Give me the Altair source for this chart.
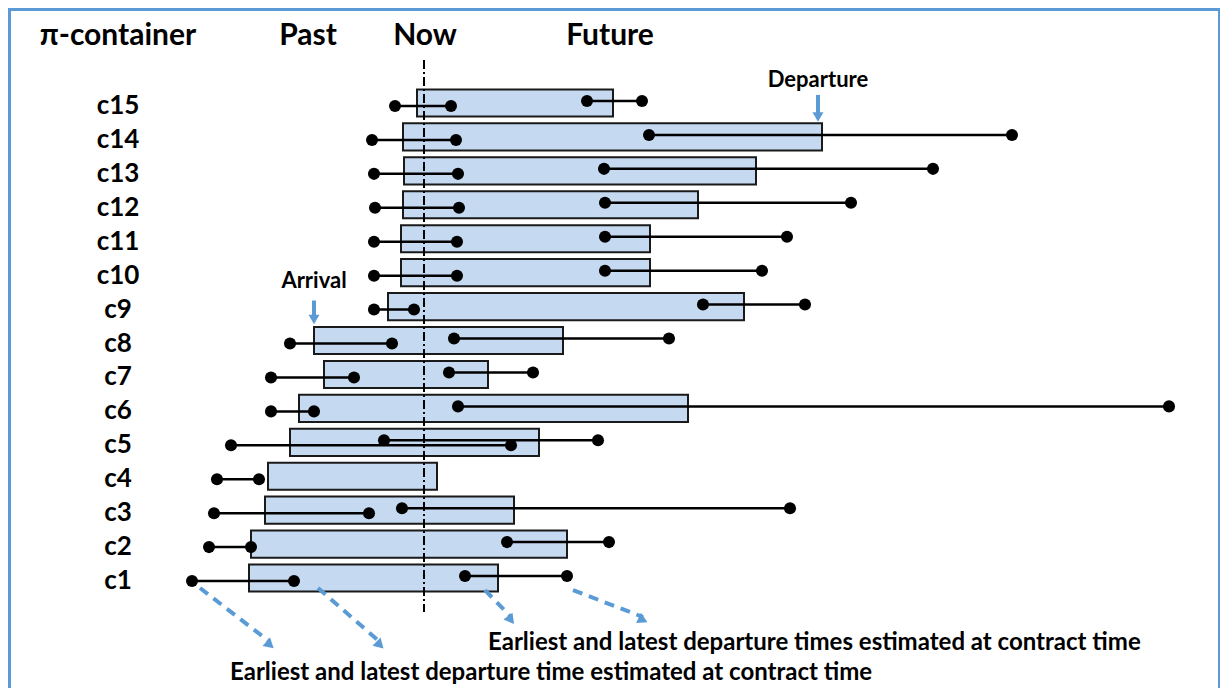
import math
import altair as alt
import pandas as pd

# ---------------- data (time in hours relative to "Now") ----------------
containers = ["c15", "c14", "c13", "c12", "c11", "c10", "c9", "c8",
              "c7", "c6", "c5", "c4", "c3", "c2", "c1"]
stay_start = [-0.7, -2.1, -2.0, -2.1, -2.3, -2.3, -3.6, -11.0,
              -10.0, -12.5, -13.4, -15.6, -15.9, -17.3, -17.5]
stay_end = [18.9, 39.8, 33.2, 27.4, 22.6, 22.6, 32.0, 13.9,
            6.4, 26.4, 11.5, 1.3, 9.0, 14.3, 7.4]
arrival_earliest = [-2.9, -5.2, -5.0, -4.9, -5.0, -5.0, -5.0, -13.4,
                    -15.3, -15.3, -19.3, -20.7, -21.0, -21.5, -23.2]
arrival_latest = [2.7, 3.2, 3.4, 3.5, 3.3, 3.3, -1.0, -3.2,
                  -7.0, -11.0, 8.7, -16.5, -5.5, -17.3, -13.0]
departure_earliest = [16.3, 22.5, 18.0, 18.1, 18.1, 18.1, 27.9, 3.0,
                      2.5, 3.4, -4.0, None, -2.2, 8.3, 4.1]
departure_latest = [21.8, 58.8, 50.9, 42.7, 36.3, 33.8, 38.1, 24.5,
                    10.9, 74.5, 17.4, None, 36.6, 18.5, 14.3]

headers = ["π-container", "Past", "Now", "Future"]
note_top = "Earliest and latest departure times estimated at contract time"
note_bottom = "Earliest and latest departure time estimated at contract time"

# ---------------- tables ----------------
stays = pd.DataFrame({"c": containers, "start": stay_start, "end": stay_end})
arr = pd.DataFrame({"c": containers, "x1": arrival_earliest, "x2": arrival_latest})
dep = pd.DataFrame({"c": containers, "x1": departure_earliest,
                    "x2": departure_latest}).dropna()
arr_pts = pd.concat([arr[["c", "x1"]].rename(columns={"x1": "t"}),
                     arr[["c", "x2"]].rename(columns={"x2": "t"})])
dep_pts = pd.concat([dep[["c", "x1"]].rename(columns={"x1": "t"}),
                     dep[["c", "x2"]].rename(columns={"x2": "t"})])
now_df = pd.DataFrame({"t": [0.0]})

W, H = 1212, 680
PX = 10.0  # pixels per hour
FONT = "Lato"
BLUE = "#5B9BD5"

xs = alt.Scale(domain=[-41.6, 79.6], nice=False, zero=False)
ys = alt.Scale(domain=containers, range=[78.04, 587.0],
               paddingInner=0.2, paddingOuter=0.1)
X = lambda f: alt.X(f, type="quantitative", scale=xs, axis=None)
Y = alt.Y("c:N", scale=ys, axis=None, sort=containers)

one = pd.DataFrame({"a": [0]})

layers = []

# frame
layers.append(alt.Chart(one).mark_rule(color=BLUE, strokeWidth=3).encode(
    x=alt.value(1.5), y=alt.value(0), y2=alt.value(H)))
layers.append(alt.Chart(one).mark_rule(color=BLUE, strokeWidth=3).encode(
    y=alt.value(1.5), x=alt.value(0), x2=alt.value(W)))
layers.append(alt.Chart(one).mark_rule(color=BLUE, strokeWidth=2).encode(
    x=alt.value(W - 1), y=alt.value(0), y2=alt.value(H)))

# stays (bars)
layers.append(alt.Chart(stays).mark_bar(fill="#C5D9F1", stroke="#1a1a1a",
                                        strokeWidth=2, cornerRadius=0).encode(
    x=X("start"), x2="end", y=Y))

# now line
layers.append(alt.Chart(now_df).mark_rule(color="black", strokeWidth=2,
                                          strokeDash=[9, 3, 2, 3]).encode(
    x=X("t"), y=alt.value(52), y2=alt.value(604)))

# segments
layers.append(alt.Chart(arr).mark_rule(color="black", strokeWidth=2.5, yOffset=3).encode(
    x=X("x1"), x2="x2", y=Y))
layers.append(alt.Chart(dep).mark_rule(color="black", strokeWidth=2.5, yOffset=-2).encode(
    x=X("x1"), x2="x2", y=Y))
layers.append(alt.Chart(arr_pts).mark_circle(color="black", size=145, opacity=1,
                                             yOffset=3).encode(x=X("t"), y=Y))
layers.append(alt.Chart(dep_pts).mark_circle(color="black", size=145, opacity=1,
                                             yOffset=-2).encode(x=X("t"), y=Y))

# row labels
layers.append(alt.Chart(stays).mark_text(font=FONT, fontWeight="bold", fontSize=26,
                                         color="black", yOffset=3).encode(
    y=Y, x=alt.value(110), text="c:N"))

# headers
for txt, px in zip(headers, [110, 300, 417, 602]):
    layers.append(alt.Chart(one).mark_text(text=txt, font=FONT, fontWeight="bold",
                                           fontSize=30, color="black").encode(
        x=alt.value(px), y=alt.value(28)))

# Arrival / Departure annotations
ann = pd.DataFrame({"c": ["c8", "c14"], "label": ["Arrival", "Departure"],
                    "t": [stay_start[7], stay_end[1] - 0.4]})
for lab, toff, s0, s1, h in [("Arrival", -60, -40, -24, -21),
                             ("Departure", -57, -42, -24, -20)]:
    d = ann[ann.label == lab]
    layers.append(alt.Chart(d).mark_text(font=FONT, fontWeight="bold", fontSize=22,
                                         color="black", yOffset=toff).encode(
        x=X("t"), y=Y, text="label:N"))
    layers.append(alt.Chart(d).mark_rule(color=BLUE, strokeWidth=4,
                                         yOffset=s0, y2Offset=s1).encode(
        x=X("t"), y=Y, y2="c:N"))
    layers.append(alt.Chart(d).mark_point(shape="triangle-down", filled=True, color=BLUE,
                                          size=120, opacity=1, yOffset=h).encode(
        x=X("t"), y=Y))

# bottom dashed arrows from c1 points
c1 = containers.index("c1")
arrows = pd.DataFrame({
    "c": ["c1"] * 4,
    "s": [arrival_earliest[c1] + 0.8, arrival_latest[c1] + 2.4,
          departure_earliest[c1] + 2.0, departure_latest[c1] + 0.6],
    "e": [arrival_earliest[c1] + 7.8, arrival_latest[c1] + 8.6,
          departure_earliest[c1] + 4.6, departure_latest[c1] + 7.6],
    "grp": ["low", "low", "high", "high"],
})
for grp, y0, y1 in [("low", 10, 71), ("high", 12, 46)]:
    d = arrows[arrows.grp == grp]
    layers.append(alt.Chart(d).mark_rule(color=BLUE, strokeWidth=4, strokeDash=[10, 7],
                                         yOffset=y0, y2Offset=y1 - 7).encode(
        x=X("s"), x2="e", y=Y, y2="c:N"))
    for _, r in d.iterrows():
        ang = 90 + math.degrees(math.atan2(y1 - y0, (r.e - r.s) * PX))
        layers.append(alt.Chart(pd.DataFrame([r])).mark_point(
            shape="triangle-up", filled=True, color=BLUE, size=130, opacity=1,
            angle=ang, yOffset=y1 - 4).encode(x=X("e"), y=Y))

# bottom notes
layers.append(alt.Chart(one).mark_text(text=note_top, font=FONT, fontWeight="bold",
                                       fontSize=24, color="black", align="left").encode(
    x=alt.value(480), y=alt.value(635)))
layers.append(alt.Chart(one).mark_text(text=note_bottom, font=FONT, fontWeight="bold",
                                       fontSize=24, color="black", align="left").encode(
    x=alt.value(222), y=alt.value(665)))

chart = alt.layer(*layers).properties(
    width=W, height=H, autosize=alt.AutoSizeParams(type="none"), padding=0,
    background="white"
).configure_view(stroke=None)

chart.save("out.html", embed_options={"renderer": "svg", "actions": False})
